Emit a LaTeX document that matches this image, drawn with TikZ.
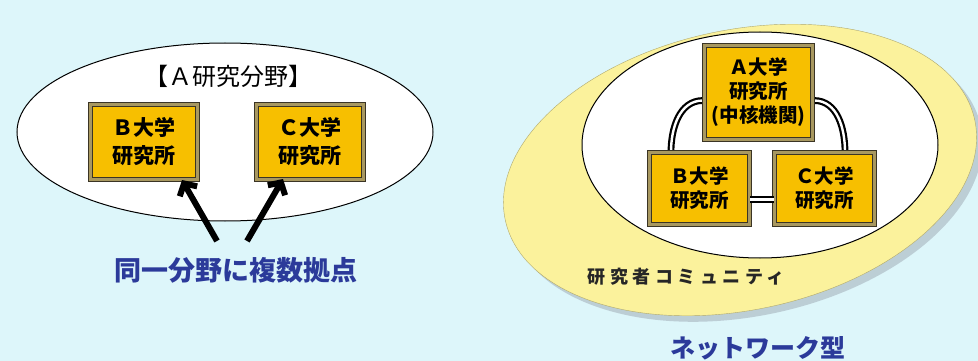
\documentclass[tikz,border=0pt]{standalone}
\usepackage{fontspec}
\newfontfamily\cjk{Noto Sans CJK JP}
\usetikzlibrary{arrows.meta}
\definecolor{bgcol}{HTML}{DDF6FA}
\definecolor{boxfill}{HTML}{F7BF00}
\definecolor{boxline}{HTML}{3A3424}
\definecolor{boxband}{HTML}{A89860}
\definecolor{blueTxt}{HTML}{2B3A9A}
\definecolor{pale}{HTML}{FBF29C}
\definecolor{shadowc}{HTML}{B4C4CC}
\tikzset{
  unibox/.style={draw=boxline, double=boxband, double distance=2.4pt, line width=1.2pt,
    fill=boxfill, align=center, inner sep=0pt, font=\cjk\bfseries\fontsize{21}{28}\selectfont},
  smallbox/.style={unibox, font=\cjk\bfseries\fontsize{19.5}{24}\selectfont},
  dbl/.style={draw=black, double=white, double distance=2.4pt, line width=2.2pt},
  bigarrow/.style={line width=6pt, -{Straight Barb[length=9pt,width=20pt,line width=6pt]}},
}
\begin{document}
\begin{tikzpicture}[x=1pt,y=-1pt]
\useasboundingbox (0,0) rectangle (978,361);
\fill[bgcol] (0,0) rectangle (978,361);
% left group
\draw[fill=white, line width=1pt] (225,132) ellipse [x radius=208, y radius=89];
\node[font=\cjk\fontsize{24}{28}\selectfont] (title) at (228,76) {【Ａ研究分野】};
\node[unibox, minimum width=107pt, minimum height=75pt] (bl) at (144,142) {Ｂ大学\\研究所};
\node[unibox, minimum width=107pt, minimum height=75pt] (cl) at (310,142) {Ｃ大学\\研究所};
\node[font=\cjk\bfseries\fontsize{27}{32}\selectfont, text=blueTxt] (multi) at (236,270) {同一分野に複数拠点};
\coordinate (s1) at (217,241);
\coordinate (s2) at (247,241);
\coordinate (t1) at (182,180);
\coordinate (t2) at (283,179);
\draw[bigarrow] (s1) -- (t1);
\draw[bigarrow] (s2) -- (t2);
% right group
\fill[shadowc, opacity=0.8, rotate around={12:(746,176)}] (746,176) ellipse [x radius=240, y radius=140];
\draw[fill=pale, draw=pale!70!black, line width=0.4pt, rotate around={12:(740,170)}] (740,170) ellipse [x radius=240, y radius=140];
\draw[fill=white, line width=1pt] (760,145) ellipse [x radius=178, y radius=113];
\draw[dbl] ([yshift=-8pt]758.5,92.5 -| 703,0) to[out=180,in=90] (671,152);
\draw[dbl] ([yshift=-8pt]758.5,92.5 -| 814,0) to[out=0,in=90] (845,152);
\node[smallbox, minimum width=108pt, minimum height=94pt] (ar) at (758.5,92.5) {Ａ大学\\研究所\\(中核機関)};
\node[smallbox, minimum width=100pt, minimum height=72pt] (br) at (699.5,188.5) {Ｂ大学\\研究所};
\node[smallbox, minimum width=100pt, minimum height=72pt] (cr) at (824.5,188.5) {Ｃ大学\\研究所};
\draw[dbl] ([yshift=-11pt]br.east) -- ([yshift=-11pt]cr.west);
\node[font=\cjk\bfseries\fontsize{18}{21}\selectfont\addfontfeature{LetterSpace=25}, text=black!85] (comm) at (686,277) {研究者コミュニティ};
\node[font=\cjk\bfseries\fontsize{25}{30}\selectfont, text=blueTxt] (net) at (758,348) {ネットワーク型};
\end{tikzpicture}
\end{document}
